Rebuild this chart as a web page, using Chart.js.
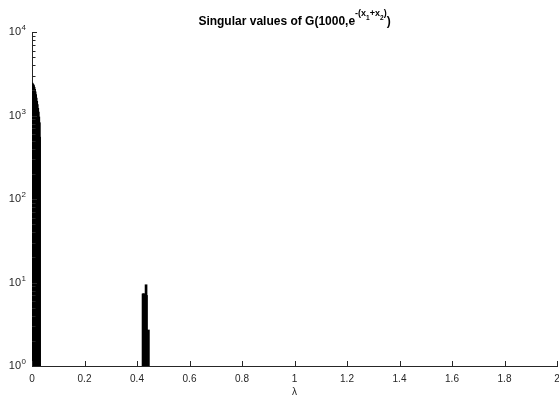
<!DOCTYPE html>
<html>
<head>
<meta charset="utf-8">
<script src="https://cdn.jsdelivr.net/npm/chart.js@4.4.0/dist/chart.umd.min.js"></script>
<style>
  body { margin: 0; background: #fff; }
  #wrap { position: relative; width: 559px; height: 397px; overflow: hidden; }
  #title {
    position: absolute; left: 32px; width: 525px; top: 14px;
    text-align: center; line-height: 13px; white-space: nowrap;
    font: bold 12px "Liberation Sans", Arial, sans-serif; color: #000;
  }
  #title .sup { font-size: 9px; position: relative; top: -9px; }
  #title .sub { font-size: 6.5px; position: relative; top: 4px; }
</style>
</head>
<body>
<div id="wrap">
  <canvas id="chart"></canvas>
  <div id="title">Singular values of G(1000,e<span class="sup">-(x<span class="sub">1</span>+x<span class="sub">2</span>)</span>)</div>
</div>
<script>
// singular values vs lambda
const lambdaNear = [0, 0.002, 0.004, 0.006, 0.008, 0.010, 0.012, 0.014, 0.016, 0.018, 0.020, 0.022, 0.024, 0.026, 0.028, 0.029];
const svNear = [2450, 2400, 2340, 2280, 2180, 2060, 1920, 1780, 1620, 1480, 1350, 1220, 1100, 960, 820, 550];

const lambdaMid = [0.423, 0.425, 0.427, 0.429, 0.431, 0.433, 0.4345, 0.436, 0.4434];
const svMid = [7.3, 7.3, 7.3, 7.2, 7.2, 7.1, 9.4, 7.0, 2.7];

// y labels are 10^k, drawn as base + raised exponent
const yTickValues = [1, 10, 100, 1000, 10000];
const yTickBase = '10';
const yTickExponents = ['0', '1', '2', '3', '4'];

const axisColor = '#262626';
const fontFamily = '"Liberation Sans", Arial, sans-serif';
Chart.defaults.font.family = fontFamily;

// MATLAB style ticks pointing into the plot, plus the 10^k labels
const matlabAxes = {
    id: 'matlabAxes',
    afterDatasetsDraw(chart) {
        const { ctx, chartArea: a, scales: { x, y } } = chart;
        ctx.save();
        ctx.strokeStyle = axisColor;
        ctx.lineWidth = 1;
        ctx.beginPath();
        x.ticks.forEach(t => {
            const px = Math.round(x.getPixelForValue(t.value)) + 0.5;
            ctx.moveTo(px, a.bottom);
            ctx.lineTo(px, a.bottom - 5);
        });
        y.ticks.forEach(t => {
            const py = Math.round(y.getPixelForValue(t.value)) + 0.5;
            const len = yTickValues.includes(t.value) ? 5 : 3.5;
            ctx.moveTo(a.left, py);
            ctx.lineTo(a.left + len, py);
        });
        ctx.stroke();

        ctx.fillStyle = axisColor;
        const right = a.left - 6;
        yTickValues.forEach((v, i) => {
            const py = y.getPixelForValue(v);
            ctx.font = '8px ' + fontFamily;
            const ew = ctx.measureText(yTickExponents[i]).width;
            ctx.textAlign = 'right';
            ctx.textBaseline = 'alphabetic';
            ctx.fillText(yTickExponents[i], right, py - 2);
            ctx.font = '11px ' + fontFamily;
            ctx.textBaseline = 'middle';
            ctx.fillText(yTickBase, right - ew - 0.5, py);
        });
        ctx.restore();
    }
};

const toPoints = (xs, ys) => xs.map((v, i) => ({ x: v, y: ys[i] }));

new Chart(document.getElementById('chart'), {
    type: 'bar',
    data: {
        datasets: [
            { data: toPoints(lambdaNear, svNear), backgroundColor: '#000', barThickness: 2, grouped: false },
            { data: toPoints(lambdaMid, svMid), backgroundColor: '#000', barThickness: 2, grouped: false }
        ]
    },
    options: {
        responsive: true,
        maintainAspectRatio: false,
        animation: false,
        layout: { padding: { top: 32, right: 2, left: 0, bottom: 0 } },
        plugins: {
            legend: { display: false },
            title: { display: false },
            tooltip: { enabled: false }
        },
        scales: {
            x: {
                type: 'linear',
                min: 0,
                max: 2,
                offset: false,
                ticks: {
                    stepSize: 0.2,
                    color: axisColor,
                    font: { size: 10 },
                    padding: 7,
                    maxRotation: 0,
                    autoSkip: false,
                    callback: v => String(parseFloat(v.toFixed(1)))
                },
                grid: { display: false, drawTicks: false },
                border: { display: true, color: axisColor, width: 1 },
                title: { display: true, text: 'λ', color: axisColor, font: { size: 10 }, padding: { top: 0, bottom: -1 } },
                afterFit(s) {
                    s.height = 31;
                    s.paddingLeft = 0;
                    s.paddingRight = 0;
                }
            },
            y: {
                type: 'logarithmic',
                min: 1,
                max: 10000,
                ticks: {
                    display: false,
                    autoSkip: false
                },
                grid: { display: false, drawTicks: false },
                border: { display: true, color: axisColor, width: 1 },
                afterBuildTicks(s) {
                    // keep 1..9 per decade only
                    s.ticks = s.ticks.filter(t => {
                        const m = t.value / Math.pow(10, Math.floor(Math.log10(t.value) + 1e-9));
                        return Math.abs(m - Math.round(m)) < 1e-6;
                    });
                },
                afterFit(s) {
                    s.width = 32;
                    s.paddingTop = 0;
                    s.paddingBottom = 0;
                }
            }
        }
    },
    plugins: [matlabAxes]
});
</script>
</body>
</html>
